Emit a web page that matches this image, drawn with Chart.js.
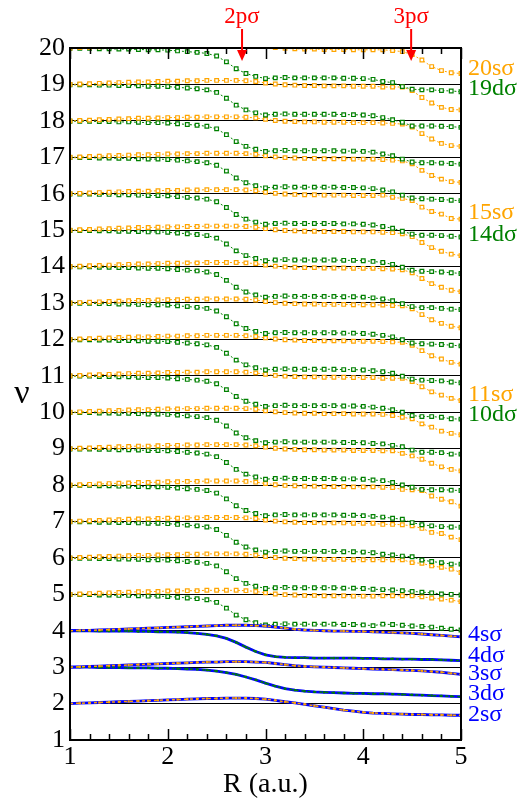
<!DOCTYPE html>
<html>
<head>
<meta charset="utf-8">
<script src="https://cdn.jsdelivr.net/npm/chart.js@4.4.0/dist/chart.umd.min.js"></script>
<style>
  html, body { margin: 0; padding: 0; background: #fff; }
  canvas { display: block; }
</style>
</head>
<body>
<canvas id="chart" width="528" height="801"></canvas>
<script>
// internuclear distance R (a.u.), one marker every 0.1
const R = [1.0,1.1,1.2,1.3,1.4,1.5,1.6,1.7,1.8,1.9,2.0,2.1,2.2,2.3,2.4,2.5,2.6,2.7,2.8,2.9,
           3.0,3.1,3.2,3.3,3.4,3.5,3.6,3.7,3.8,3.9,4.0,4.1,4.2,4.3,4.4,4.5,4.6,4.7,4.8,4.9,5.0];

// starting level (nu at R = 1) of each pair of dotted curves
const levels = [20,19,18,17,16,15,14,13,12,11,10,9,8,7,6,5];

// s-sigma curves, offset from the level, R = 1.0 ... 4.1 (same for every level)
const sHead = [0.00,0.01,0.02,0.03,0.04,0.05,0.06,0.07,0.07,0.08,
               0.09,0.09,0.10,0.10,0.11,0.11,0.11,0.11,0.10,0.08,
               0.04,0.01,-0.01,-0.02,-0.03,-0.03,-0.04,-0.04,-0.04,-0.05,
               -0.05,-0.05];
// d-sigma curves, offset from the level, R = 1.0 ... 4.1
const dHead = [-0.01,-0.01,-0.01,-0.02,-0.02,-0.03,-0.03,-0.04,-0.05,-0.05,
               -0.06,-0.08,-0.10,-0.12,-0.15,-0.22,-0.38,-0.57,-0.70,-0.78,
               -0.84,-0.82,-0.81,-0.82,-0.82,-0.82,-0.82,-0.82,-0.83,-0.83,
               -0.84,-0.86];

// R = 4.2 ... 5.0, one row per entry of levels
const sTail = [
  [-0.05,-0.07,-0.10,-0.18,-0.33,-0.51,-0.62,-0.68,-0.70],
  [-0.07,-0.07,-0.07,-0.17,-0.36,-0.51,-0.63,-0.69,-0.70],
  [-0.06,-0.07,-0.09,-0.17,-0.35,-0.50,-0.62,-0.68,-0.70],
  [-0.06,-0.08,-0.10,-0.18,-0.36,-0.50,-0.60,-0.67,-0.69],
  [-0.04,-0.10,-0.13,-0.19,-0.37,-0.49,-0.56,-0.68,-0.70],
  [-0.06,-0.07,-0.10,-0.18,-0.34,-0.48,-0.58,-0.66,-0.70],
  [-0.06,-0.07,-0.09,-0.17,-0.33,-0.47,-0.57,-0.65,-0.69],
  [-0.06,-0.07,-0.08,-0.16,-0.32,-0.46,-0.56,-0.64,-0.68],
  [-0.06,-0.07,-0.08,-0.16,-0.31,-0.45,-0.54,-0.63,-0.68],
  [-0.07,-0.07,-0.07,-0.16,-0.30,-0.44,-0.53,-0.62,-0.68],
  [-0.06,-0.09,-0.14,-0.18,-0.32,-0.41,-0.52,-0.58,-0.62],
  [-0.06,-0.06,-0.13,-0.20,-0.29,-0.40,-0.50,-0.57,-0.61],
  [-0.06,-0.07,-0.12,-0.13,-0.15,-0.30,-0.39,-0.46,-0.58],
  [-0.08,-0.08,-0.09,-0.12,-0.19,-0.30,-0.33,-0.43,-0.50],
  [-0.05,-0.05,-0.05,-0.13,-0.15,-0.22,-0.26,-0.31,-0.40],
  [-0.04,-0.04,-0.04,-0.04,-0.07,-0.10,-0.13,-0.16,-0.20]
];
const dTail = [
  [-0.92,-0.95,-1.06,-1.13,-1.15,-1.15,-1.17,-1.18,-1.20],
  [-0.91,-0.97,-1.04,-1.14,-1.14,-1.14,-1.15,-1.16,-1.18],
  [-0.91,-0.96,-1.05,-1.13,-1.15,-1.15,-1.16,-1.17,-1.19],
  [-0.90,-0.95,-1.04,-1.12,-1.14,-1.15,-1.16,-1.18,-1.19],
  [-0.90,-0.95,-1.03,-1.11,-1.14,-1.14,-1.15,-1.17,-1.19],
  [-0.89,-0.94,-1.02,-1.10,-1.13,-1.14,-1.15,-1.17,-1.19],
  [-0.89,-0.94,-1.02,-1.10,-1.13,-1.13,-1.15,-1.17,-1.18],
  [-0.89,-0.93,-1.01,-1.10,-1.12,-1.13,-1.14,-1.16,-1.18],
  [-0.89,-0.93,-1.01,-1.09,-1.12,-1.13,-1.14,-1.17,-1.19],
  [-0.89,-0.93,-1.00,-1.09,-1.12,-1.12,-1.14,-1.18,-1.19],
  [-0.87,-0.91,-0.95,-1.04,-1.10,-1.10,-1.11,-1.15,-1.15],
  [-0.88,-0.93,-1.00,-1.06,-1.12,-1.13,-1.13,-1.14,-1.15],
  [-0.88,-0.91,-0.94,-1.03,-1.09,-1.12,-1.14,-1.15,-1.16],
  [-0.90,-0.92,-0.95,-0.97,-1.06,-1.10,-1.13,-1.17,-1.17],
  [-0.87,-0.88,-0.90,-0.92,-0.94,-0.96,-0.99,-1.00,-1.02],
  [-0.82,-0.83,-0.85,-0.87,-0.88,-0.90,-0.93,-0.96,-0.98]
];

// low states (solid blue lines)
const s2 = [2.00,2.01,2.02,2.03,2.04,2.05,2.06,2.07,2.08,2.09,2.10,2.11,2.12,2.13,2.14,2.14,2.15,2.15,2.15,2.14,
            2.12,2.09,2.05,2.02,1.98,1.94,1.90,1.86,1.82,1.79,1.76,1.74,1.73,1.72,1.71,1.70,1.70,1.69,1.69,1.68,1.68];
const s3 = [3.00,3.01,3.02,3.03,3.04,3.05,3.06,3.07,3.08,3.09,3.10,3.11,3.12,3.13,3.14,3.14,3.15,3.15,3.15,3.14,
            3.13,3.10,3.07,3.04,3.02,3.01,3.00,2.99,2.98,2.97,2.96,2.95,2.94,2.93,2.92,2.91,2.90,2.88,2.86,2.83,2.80];
const s4 = [4.00,4.01,4.01,4.02,4.03,4.04,4.05,4.06,4.07,4.08,4.09,4.10,4.11,4.12,4.13,4.14,4.15,4.15,4.15,4.14,
            4.13,4.10,4.07,4.04,4.02,4.01,4.00,3.99,3.99,3.98,3.98,3.97,3.96,3.95,3.94,3.93,3.91,3.89,3.87,3.85,3.83];
const d3 = [3.00,3.00,3.00,2.99,2.99,2.99,2.98,2.98,2.98,2.97,2.97,2.96,2.95,2.94,2.92,2.89,2.85,2.80,2.73,2.65,
            2.56,2.48,2.41,2.37,2.34,2.32,2.31,2.30,2.29,2.28,2.28,2.27,2.27,2.26,2.25,2.24,2.23,2.22,2.21,2.20,2.19];
const d4 = [4.00,4.00,4.00,3.99,3.99,3.99,3.99,3.98,3.98,3.97,3.97,3.96,3.95,3.93,3.90,3.86,3.79,3.68,3.55,3.43,
            3.34,3.29,3.27,3.26,3.26,3.25,3.25,3.25,3.25,3.25,3.24,3.24,3.23,3.23,3.22,3.22,3.21,3.21,3.20,3.19,3.18];

// labels at the right edge
const sideText  = ['20sσ','19dσ','15sσ','14dσ','11sσ','10dσ','4sσ','4dσ','3sσ','3dσ','2sσ'];
const sideNu    = [19.44, 18.89, 15.48, 14.87, 10.47, 9.92, 3.89, 3.31, 2.82, 2.28, 1.69];
const sideKind  = ['s','d','s','d','s','d','b','b','b','b','b'];

// red arrows on top
const arrowText = ['2pσ','3pσ'];
const arrowR    = [2.76, 4.49];

const ORANGE = '#ffa500', GREEN = '#008000', BLUE = '#0000ff', RED = '#ff0000';
const SERIF = "'Liberation Serif'";

function pts(vals) {
  return R.map((r, i) => ({ x: r, y: vals[i] }));
}
function levelCurve(n, head, tail) {
  return R.map((r, i) => ({ x: r, y: n + (i < head.length ? head[i] : tail[i - head.length]) }));
}

const datasets = [];
// dotted traces running over the blue curves
[[s2, ORANGE], [s3, ORANGE], [s4, ORANGE], [d3, GREEN], [d4, GREEN]].forEach(([v, c]) => {
  datasets.push({ data: pts(v), borderColor: c, borderWidth: 1.5, borderDash: [3, 3],
    pointStyle: 'rect', pointRadius: 1.6, pointBackgroundColor: c, pointBorderColor: c, pointBorderWidth: 0 });
});
[s2, s3, s4, d3, d4].forEach(v => {
  datasets.push({ data: pts(v), borderColor: BLUE, borderWidth: 2.8, pointRadius: 0 });
});
levels.forEach((n, k) => {
  datasets.push({ data: levelCurve(n, sHead, sTail[k]), borderColor: ORANGE, borderWidth: 1,
    borderDash: [2, 2], pointStyle: 'rect', pointRadius: 2.6, pointBorderWidth: 1.2,
    pointBorderColor: ORANGE, pointBackgroundColor: '#fff' });
  datasets.push({ data: levelCurve(n, dHead, dTail[k]), borderColor: GREEN, borderWidth: 1,
    borderDash: [2, 2], pointStyle: 'rect', pointRadius: 2.6, pointBorderWidth: 1.2,
    pointBorderColor: GREEN, pointBackgroundColor: '#fff' });
});

const decor = {
  id: 'decor',
  afterDraw(chart) {
    const { ctx, chartArea: a } = chart;
    const xs = chart.scales.x, ys = chart.scales.y;
    ctx.save();
    // ticks inside, top and bottom
    ctx.strokeStyle = '#000';
    ctx.lineWidth = 1.5;
    xs.ticks.forEach(t => {
      const px = Math.round(xs.getPixelForValue(t.value)) + 0.5;
      const major = Math.abs(t.value - Math.round(t.value)) < 1e-6;
      const len = major ? 11 : 6;
      ctx.beginPath();
      ctx.moveTo(px, a.bottom); ctx.lineTo(px, a.bottom - len);
      ctx.moveTo(px, a.top); ctx.lineTo(px, a.top + len);
      ctx.stroke();
    });
    // frame
    ctx.lineWidth = 2;
    ctx.strokeRect(a.left, a.top, a.right - a.left, a.bottom - a.top);
    // y title
    ctx.fillStyle = '#000';
    ctx.font = '34px ' + SERIF;
    ctx.textAlign = 'center';
    ctx.textBaseline = 'middle';
    ctx.fillText('ν', 22, (a.top + a.bottom) / 2);
    // arrows
    ctx.fillStyle = RED; ctx.strokeStyle = RED;
    arrowText.forEach((txt, i) => {
      const x = xs.getPixelForValue(arrowR[i]);
      ctx.font = '23px ' + SERIF;
      ctx.fillText(txt, x, 17);
      ctx.lineWidth = 2;
      ctx.beginPath(); ctx.moveTo(x, 29); ctx.lineTo(x, 52); ctx.stroke();
      ctx.beginPath(); ctx.moveTo(x - 5, 50); ctx.lineTo(x + 5, 50); ctx.lineTo(x, 61);
      ctx.closePath(); ctx.fill();
    });
    // side labels
    ctx.font = '24px ' + SERIF;
    ctx.textAlign = 'left';
    sideText.forEach((txt, i) => {
      ctx.fillStyle = sideKind[i] === 's' ? ORANGE : sideKind[i] === 'd' ? GREEN : BLUE;
      ctx.fillText(txt, a.right + 7, ys.getPixelForValue(sideNu[i]));
    });
    ctx.restore();
  }
};

function draw() {
  new Chart(document.getElementById('chart'), {
    type: 'line',
    data: { datasets },
    options: {
      responsive: false,
      animation: false,
      devicePixelRatio: 1,
      layout: { padding: { top: 48, right: 67, left: 0, bottom: 0 } },
      plugins: { legend: { display: false }, tooltip: { enabled: false } },
      scales: {
        x: {
          type: 'linear', min: 1, max: 5,
          grid: { display: false, drawTicks: false, tickLength: 0 }, border: { display: false },
          ticks: {
            stepSize: 0.2, autoSkip: false, maxRotation: 0, padding: 2, color: '#000',
            font: { family: SERIF, size: 26 },
            callback: v => Math.abs(v - Math.round(v)) < 1e-6 ? String(Math.round(v)) : ''
          },
          title: { display: true, text: 'R (a.u.)', color: '#000', font: { family: SERIF, size: 28 },
                   padding: { top: 0, bottom: 0 } },
          afterFit: s => { s.height = 61; }
        },
        y: {
          min: 1, max: 20,
          grid: { color: '#000', lineWidth: 1, drawTicks: false },
          border: { display: false },
          ticks: { stepSize: 1, padding: 5, color: '#000', font: { family: SERIF, size: 26 } },
          afterFit: s => { s.width = 70; }
        }
      }
    },
    plugins: [decor]
  });
}

if (document.fonts && document.fonts.load) {
  document.fonts.load("26px 'Liberation Serif'").then(draw, draw);
} else {
  draw();
}
</script>
</body>
</html>
